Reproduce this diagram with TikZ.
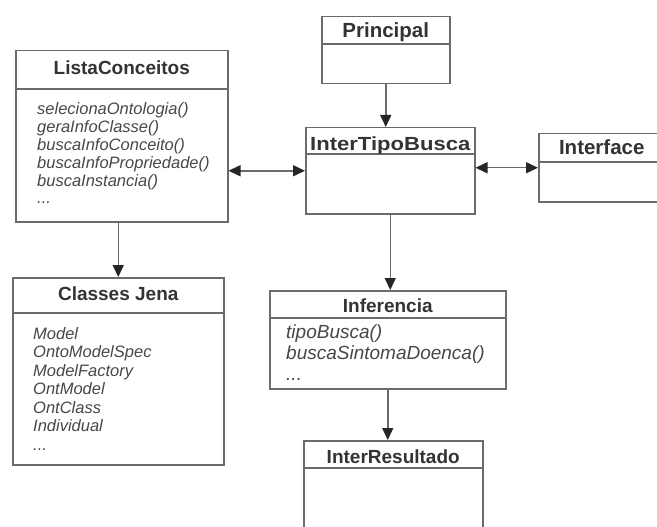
\documentclass[tikz,border=0pt]{standalone}
\usepackage{fontspec}
\setmainfont{Liberation Sans}
\usetikzlibrary{arrows.meta,calc}
\definecolor{linegray}{gray}{0.42}
\definecolor{textgray}{gray}{0.2}
\tikzset{
  clsbox/.style={draw=linegray, line width=1.5pt, inner sep=0pt, anchor=north west},
  divider/.style={draw=linegray, line width=1.5pt},
  clstitle/.style={anchor=base, text=textgray, font=\bfseries\fontsize{19}{19}\selectfont},
  clsitem/.style={anchor=base west, inner sep=0pt, text=textgray!90, font=\itshape\fontsize{16.5}{18}\selectfont},
  link/.style={draw=linegray, line width=1.5pt, ->},
  dlink/.style={draw=linegray, line width=1.5pt, <->},
}

\begin{document}
\begin{tikzpicture}[x=1pt,y=-1pt,>={Triangle[width=11pt,length=12pt,color=black!85]}]
\useasboundingbox (0,0) rectangle (657,527);
\clip (0,0) rectangle (657,527);

\node[clsbox, minimum width=212pt, minimum height=171pt] (lista) at (15,50) {};
\draw[divider] (lista.north west) ++(0,39) -- ++(212,0);
\node[clstitle] (listaT) at ($(lista.north)+(0,25)$) {ListaConceitos};
\foreach \m [count=\i] in {selecionaOntologia(),geraInfoClasse(),buscaInfoConceito(),buscaInfoPropriedade(),buscaInstancia()}
  \node[clsitem] (lista\i) at (37,{96+18*\i}) {\m};
\node[clsitem] (lista6) at (37,204) {...};

\node[clsbox, minimum width=211pt, minimum height=187pt] (jena) at (12,277) {};
\draw[divider] (jena.north west) ++(0,36) -- ++(211,0);
\node[clstitle] (jenaT) at ($(jena.north)+(0,23)$) {Classes Jena};
\foreach \m [count=\i] in {Model,OntoModelSpec,ModelFactory,OntModel,OntClass,Individual}
  \node[clsitem] (jena\i) at (33,{320.5+18.5*\i}) {\m};
\node[clsitem] (jena7) at (33,450) {...};

\node[clsbox, minimum width=128pt, minimum height=67pt] (principal) at (321,16) {};
\draw[divider] (principal.north west) ++(0,28) -- ++(128,0);
\node[clstitle, font=\bfseries\fontsize{20.5}{20.5}\selectfont] (principalT) at ($(principal.north)+(0,21.5)$) {Principal};

\node[clsbox, minimum width=169pt, minimum height=86pt] (intertipo) at (305,127) {};
\draw[divider] (intertipo.north west) ++(0,27) -- ++(169,0);
\node[clstitle] (intertipoT) at ($(intertipo.north)+(0,23)$) {\scalebox{1.16}[1]{InterTipoBusca}};

\node[clsbox, minimum width=126pt, minimum height=68pt] (interface) at (538,133) {};
\draw[divider] (interface.north west) ++(0,29) -- ++(126,0);
\node[clstitle, font=\bfseries\fontsize{20.5}{20.5}\selectfont] (interfaceT) at ($(interface.north)+(0,21.5)$) {Interface};

\node[clsbox, minimum width=236pt, minimum height=98pt] (inferencia) at (269,290) {};
\draw[divider] (inferencia.north west) ++(0,28) -- ++(236,0);
\node[clstitle] (inferenciaT) at ($(inferencia.north)+(0,22)$) {Inferencia};
\foreach \m [count=\i] in {tipoBusca(),buscaSintomaDoenca()}
  \node[clsitem, font=\itshape\fontsize{19}{21}\selectfont] (inferencia\i) at (286,{317+21*\i}) {\m};
\node[clsitem, font=\itshape\fontsize{19}{21}\selectfont] (inferencia3) at (286,380) {...};

\node[clsbox, minimum width=179pt, minimum height=100pt] (interres) at (303,440) {};
\draw[divider] (interres.north west) ++(0,28) -- ++(179,0);
\node[clstitle] (interresT) at ($(interres.north)+(0,23)$) {InterResultado};

\draw[link] (principal.south) -- (principal.south |- intertipo.north);
\draw[dlink] (lista.east |- intertipo.west) -- (intertipo.west);
\draw[dlink] (intertipo.east |- interface.west) -- (interface.west);
\draw[link] (intertipo.south) -- (intertipo.south |- inferencia.north);
\draw[link] (jena.north |- lista.south) -- (jena.north);
\draw[link] (inferencia.south) -- (inferencia.south |- interres.north);
\end{tikzpicture}
\end{document}
